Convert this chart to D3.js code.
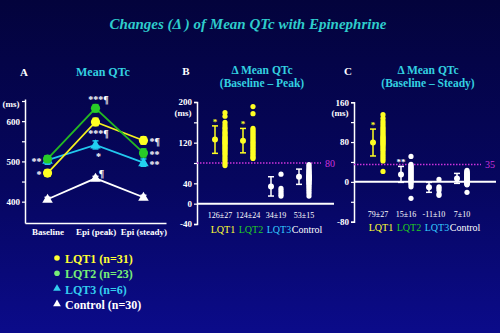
<!DOCTYPE html>
<html><head><meta charset="utf-8">
<script src="https://cdn.jsdelivr.net/npm/d3@7"></script>
<style>body{margin:0;background:#02023c;} svg{display:block;}</style>
</head><body>
<svg id="c" width="500" height="333"></svg>
<script>
// ---------- DATA ----------
const titleText = "Changes (\u0394 ) of Mean QTc with Epinephrine";
const categoriesA = ["Baseline", "Epi (peak)", "Epi (steady)"];
const seriesNames = ["LQT1", "LQT2", "LQT3", "Control"];
const legendLabels = ["LQT1 (n=31)", "LQT2 (n=23)", "LQT3 (n=6)", "Control (n=30)"];
const meanLQT1 = [471, 598, 552];
const meanLQT2 = [506, 632, 521];
const meanLQT3 = [503, 541, 497];
const meanControl = [406, 458, 411];
const errLQT1 = [8, 9, 9];
const errLQT2 = [8, 9, 10];
const errLQT3 = [10, 10, 9];
const errControl = [5, 5, 5];
const ticksA = [400, 450, 500, 550, 600, 650];
const tickLabelsA = [400, 500, 600];
// annotations in panel A: series, point index, text, side
const annotationsA = [
  ["LQT2", 1, "***\u00b6", "above"],
  ["LQT1", 1, "***\u00b6", "below"],
  ["LQT3", 1, "*", "below"],
  ["Control", 1, "\u00b6", "aboveRight"],
  ["LQT1", 2, "*\u00b6", "right"],
  ["LQT2", 2, "**", "right"],
  ["LQT3", 2, "**", "right"],
  ["LQT3", 0, "**", "left"],
  ["LQT1", 0, "*", "left"]
];

const groups = ["LQT1", "LQT2", "LQT3", "Control"];
// Panel B: delta baseline -> peak
const peakLQT1 = [179, 172, 160, 155, 150, 147, 143, 140, 138, 135, 132, 130, 128, 126, 124, 122, 120, 118, 116, 113, 110, 108, 105, 102, 99, 96, 92, 88, 84, 79, 75];
const peakLQT2 = [191, 177, 148, 145, 142, 139, 136, 133, 130, 127, 124, 121, 118, 115, 112, 109, 106, 103, 100, 97, 94, 91, 89];
const peakLQT3 = [58, 30, 26, 22, 18, 15];
const peakControl = [77, 74, 71, 68, 66, 64, 62, 60, 58, 56, 55, 54, 53, 52, 51, 50, 49, 48, 47, 46, 44, 42, 40, 38, 35, 32, 28, 24, 20, 15];
const peakMean = [126, 124, 34, 53];
const peakSD = [27, 24, 19, 15];
const peakLabels = ["126\u00b127", "124\u00b124", "34\u00b119", "53\u00b115"];
const peakSig = ["*", "*", "", ""];
const peakHighlight = [true, true, false, false];
const peakThreshold = 80;
const ticksB = [-40, 0, 40, 80, 120, 160, 200];
const tickLabelsB = [-40, 0, 40, 120, 200];
// Panel C: delta baseline -> steady
const steadyLQT1 = [135, 128, 122, 118, 114, 110, 107, 104, 101, 98, 95, 92, 90, 88, 86, 84, 82, 80, 78, 76, 74, 71, 68, 65, 62, 58, 54, 50, 46, 42, 21];
const steadyLQT2 = [51, 35, 32, 30, 28, 26, 24, 22, 20, 18, 16, 14, 12, 10, 8, 6, 4, 2, 0, -3, -6, -10, -33];
const steadyLQT3 = [5, -10, -13, -17, -24, -27];
const steadyControl = [23, 21, 19, 18, 17, 16, 15, 14, 13, 12, 11, 10, 9, 8, 8, 7, 6, 5, 4, 3, 2, 1, 0, -1, -2, -3, -4, -5, -6, -21];
const steadyMean = [79, 15, -11, 7];
const steadySD = [27, 16, 10, 10];
const steadyLabels = ["79\u00b127", "15\u00b116", "-11\u00b110", "7\u00b110"];
const steadySig = ["*", "**", "", ""];
const steadyHighlight = [true, false, false, false];
const steadyThreshold = 35;
const ticksC = [-80, -40, 0, 40, 80, 120, 160];
const tickLabelsC = [-80, 0, 80, 160];

// ---------- STYLE ----------
const FONT = "'Liberation Serif','Times New Roman',serif";
const lineColor = {LQT1: "#f4f020", LQT2: "#22b822", LQT3: "#22c8ee", Control: "#ffffff"};
const markColor = {LQT1: "#ffff22", LQT2: "#28cc28", LQT3: "#22d0f0", Control: "#ffffff"};
const legendColor = {LQT1: "#ffff33", LQT2: "#77ee77", LQT3: "#33ccee", Control: "#ffffff"};
const groupLabelColor = {LQT1: "#ffff33", LQT2: "#22cc22", LQT3: "#33ccff", Control: "#ffffff"};
const shape = {LQT1: "circle", LQT2: "circle", LQT3: "triangle", Control: "triangle"};
const cyan = "#33d0e0";
const magenta = "#cc33dd";

const svg = d3.select("#c");
const defs = svg.append("defs");
const grad = defs.append("linearGradient").attr("id", "bg").attr("x1", 0).attr("y1", 0).attr("x2", 0).attr("y2", 1);
grad.append("stop").attr("offset", "0%").attr("stop-color", "#03033c");
grad.append("stop").attr("offset", "55%").attr("stop-color", "#06065f");
grad.append("stop").attr("offset", "100%").attr("stop-color", "#0b0b8a");
svg.append("rect").attr("width", 500).attr("height", 333).attr("fill", "url(#bg)");

// Title
svg.append("text").attr("x", 248).attr("y", 29).attr("text-anchor", "middle")
  .attr("font-family", FONT).attr("font-size", 15).attr("font-weight", "bold").attr("font-style", "italic")
  .attr("fill", "#2ecccc").text(titleText);

function txt(g, x, y, s, size, color, opts = {}) {
  return g.append("text").attr("x", x).attr("y", y).attr("text-anchor", opts.anchor || "middle")
    .attr("font-family", FONT).attr("font-size", size).attr("font-weight", opts.weight || "bold")
    .attr("fill", color).text(s);
}

function styleAxis(g) {
  g.selectAll("path.domain").attr("stroke", "#fff").attr("stroke-width", 1.5);
  g.selectAll(".tick line").attr("stroke", "#fff").attr("stroke-width", 1.2);
  g.selectAll(".tick text").attr("fill", "#fff").attr("font-family", FONT)
    .attr("font-size", 9).attr("font-weight", "bold");
}

// ---------- PANEL A ----------
const gA = svg.append("g");
txt(gA, 24, 76, "A", 11, "#fff");
txt(gA, 103, 76, "Mean QTc", 12, cyan);
const xA = d3.scalePoint().domain(categoriesA).range([25, 166]).padding(0.47);
const yA = d3.scaleLinear().domain([347, 655]).range([223, 99]);
const axA = gA.append("g").attr("transform", "translate(25,0)")
  .call(d3.axisLeft(yA).tickValues(ticksA).tickSizeInner(3).tickSizeOuter(0)
    .tickFormat(d => tickLabelsA.includes(d) ? d : ""));
styleAxis(axA);
axA.selectAll(".tick text").attr("x", -5);
const axAx = gA.append("g").attr("transform", "translate(0,223)")
  .call(d3.axisBottom(xA).tickSize(0).tickSizeOuter(0).tickPadding(6));
styleAxis(axAx);
axAx.selectAll(".tick text").attr("font-size", 9);
txt(gA, 11, 107, "(ms)", 9, "#fff");

const meansA = {LQT1: meanLQT1, LQT2: meanLQT2, LQT3: meanLQT3, Control: meanControl};
const errsA = {LQT1: errLQT1, LQT2: errLQT2, LQT3: errLQT3, Control: errControl};
const drawOrder = ["Control", "LQT3", "LQT1", "LQT2"];
const lineGen = d3.line().x((d, i) => xA(categoriesA[i])).y(d => yA(d));
drawOrder.forEach(s => {
  gA.append("path").datum(meansA[s]).attr("d", lineGen).attr("fill", "none")
    .attr("stroke", lineColor[s]).attr("stroke-width", 1.8);
});
drawOrder.forEach(s => {
  const g = gA.append("g");
  meansA[s].forEach((v, i) => {
    const x = xA(categoriesA[i]);
    const e = errsA[s][i];
    g.append("line").attr("x1", x).attr("x2", x).attr("y1", yA(v - e)).attr("y2", yA(v + e))
      .attr("stroke", markColor[s]).attr("stroke-width", 1.5);
    [v - e, v + e].forEach(c => g.append("line").attr("x1", x - 3).attr("x2", x + 3)
      .attr("y1", yA(c)).attr("y2", yA(c)).attr("stroke", markColor[s]).attr("stroke-width", 1.5));
    if (shape[s] === "circle") {
      g.append("circle").attr("cx", x).attr("cy", yA(v)).attr("r", 4.6).attr("fill", markColor[s]);
    } else {
      g.append("path").attr("d", d3.symbol(d3.symbolTriangle, 48)())
        .attr("transform", `translate(${x},${yA(v) + 0.5})`).attr("fill", markColor[s]);
    }
  });
});
annotationsA.forEach(([s, i, t, side]) => {
  const x = xA(categoriesA[i]);
  const y = yA(meansA[s][i]);
  let ax = x, ay = y, anchor = "middle";
  if (side === "above") { ax = x + 3; ay = y - 10; }
  if (side === "below") { ax = x + 3; ay = y + 10; }
  if (side === "aboveRight") { ax = x + 6; ay = y - 6; }
  if (side === "right") { ax = x + 6; ay = y; anchor = "start"; }
  if (side === "left") { ax = x - 6; ay = y; anchor = "end"; }
  txt(gA, ax, ay + 5, t, 10, "#fff", {anchor});
});

// Legend
seriesNames.forEach((s, i) => {
  const y = 259 + i * 15.3;
  if (shape[s] === "circle") {
    svg.append("circle").attr("cx", 57).attr("cy", y - 1).attr("r", 2.8).attr("fill", legendColor[s]);
  } else {
    svg.append("path").attr("d", d3.symbol(d3.symbolTriangle, 26)())
      .attr("transform", `translate(57,${y - 1})`).attr("fill", legendColor[s]);
  }
  txt(svg, 65, y + 4, legendLabels[i], 12, legendColor[s], {anchor: "start"});
});

// ---------- PANELS B & C ----------
function deltaPanel(cfg) {
  const g = svg.append("g");
  txt(g, cfg.letterX, 75, cfg.letter, 11, "#fff");
  txt(g, cfg.titleX, 74, "\u0394 Mean QTc", 11.5, cyan);
  txt(g, cfg.titleX, 87, cfg.subtitle, 11.5, cyan);
  const y = d3.scaleLinear().domain(cfg.domain).range(cfg.yRange);
  const x = d3.scaleBand().domain(groups).range(cfg.xRange);
  const ax = g.append("g").attr("transform", `translate(${cfg.axisX},0)`)
    .call(d3.axisLeft(y).tickValues(cfg.ticks).tickSizeInner(3).tickSizeOuter(3)
      .tickFormat(d => cfg.tickLabels.includes(d) ? d : ""));
  styleAxis(ax);
  ax.selectAll(".tick text").attr("x", -5);
  txt(g, cfg.axisX - 14, cfg.msY, "(ms)", 9, "#fff");
  // zero line
  g.append("line").attr("x1", cfg.axisX).attr("x2", cfg.zeroEnd).attr("y1", y(0)).attr("y2", y(0))
    .attr("stroke", "#fff").attr("stroke-width", 2);
  // threshold line
  g.append("line").attr("x1", cfg.axisX).attr("x2", cfg.dotEnd).attr("y1", y(cfg.threshold)).attr("y2", y(cfg.threshold))
    .attr("stroke", magenta).attr("stroke-width", 1.4).attr("stroke-dasharray", "1.5,1.5");
  txt(g, cfg.dotEnd + 4, y(cfg.threshold) + 3.5, String(cfg.threshold), 10, magenta, {anchor: "start", weight: "normal"});
  groups.forEach((grp, i) => {
    const cx = x(grp) + x.bandwidth() / 2;
    const col = cfg.highlight[i] ? "#ffff22" : "#ffffff";
    const mx = cx - 5, dx = cx + 5;
    const m = cfg.mean[i], sd = cfg.sd[i];
    g.append("line").attr("x1", mx).attr("x2", mx).attr("y1", y(m - sd)).attr("y2", y(m + sd))
      .attr("stroke", col).attr("stroke-width", 1.5);
    [m - sd, m + sd].forEach(c => g.append("line").attr("x1", mx - 3).attr("x2", mx + 3)
      .attr("y1", y(c)).attr("y2", y(c)).attr("stroke", col).attr("stroke-width", 1.5));
    g.append("circle").attr("cx", mx).attr("cy", y(m)).attr("r", 3).attr("fill", col);
    if (cfg.sig[i]) txt(g, mx, y(m + sd) - 1, cfg.sig[i], 9, col);
    g.selectAll(null).data(cfg.dots[i]).enter().append("circle")
      .attr("cx", dx).attr("cy", d => y(d)).attr("r", 2.6).attr("fill", col);
    txt(g, cx, cfg.valY, cfg.valueLabels[i], 8, "#fff", {weight: "normal"});
    txt(g, cx + 3, cfg.grpY, grp, 10, groupLabelColor[grp], {weight: "normal"});
  });
}

deltaPanel({
  letter: "B", letterX: 186, titleX: 262, subtitle: "(Baseline \u2013 Peak)",
  domain: [-40, 200], yRange: [224, 102], xRange: [206, 318], axisX: 197,
  ticks: ticksB, tickLabels: tickLabelsB, msY: 116, zeroEnd: 334, dotEnd: 321,
  threshold: peakThreshold, highlight: peakHighlight, mean: peakMean, sd: peakSD, sig: peakSig,
  dots: [peakLQT1, peakLQT2, peakLQT3, peakControl], valueLabels: peakLabels, valY: 218, grpY: 233
});
deltaPanel({
  letter: "C", letterX: 348, titleX: 428, subtitle: "(Baseline \u2013 Steady)",
  domain: [-80, 160], yRange: [221.7, 102.2], xRange: [364, 476], axisX: 354,
  ticks: ticksC, tickLabels: tickLabelsC, msY: 116, zeroEnd: 496, dotEnd: 481,
  threshold: steadyThreshold, highlight: steadyHighlight, mean: steadyMean, sd: steadySD, sig: steadySig,
  dots: [steadyLQT1, steadyLQT2, steadyLQT3, steadyControl], valueLabels: steadyLabels, valY: 217, grpY: 231
});
</script>
</body></html>
